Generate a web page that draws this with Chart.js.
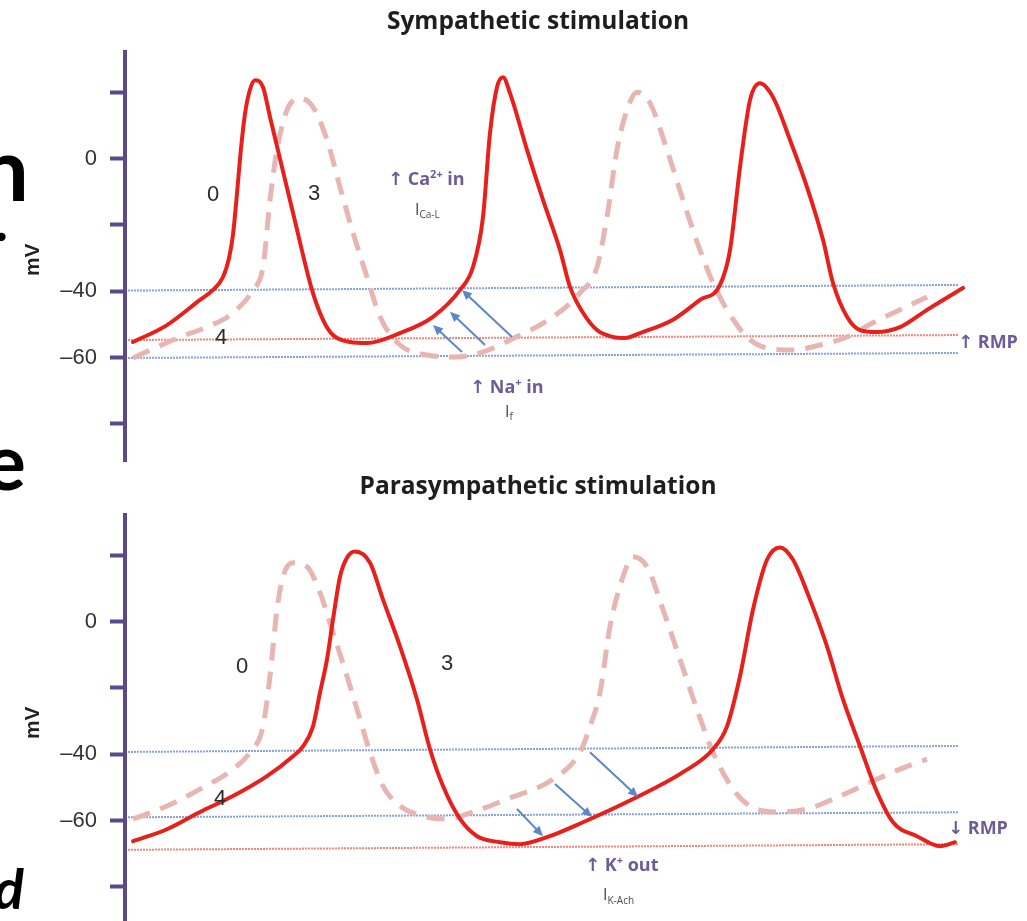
<!DOCTYPE html>
<html>
<head>
<meta charset="utf-8">
<title>Sympathetic vs parasympathetic stimulation</title>
<script src="https://cdn.jsdelivr.net/npm/chart.js@4.4.1/dist/chart.umd.min.js"></script>
<style>
  html, body { margin: 0; padding: 0; background: #fff; width: 1027px; height: 921px; overflow: hidden; }
  canvas { position: absolute; left: 0; }
  #edge { top: 0; }
  #symChart { top: 0; }
  #paraChart { top: 463px; }
</style>
</head>
<body>
<canvas id="edge" width="60" height="921"></canvas>
<canvas id="symChart" width="1027" height="488"></canvas>
<canvas id="paraChart" width="1027" height="488"></canvas>
<script>
// ---------------- data (time in ms from the axis, potential in mV) ----------------
const symTime = [8, 42, 75, 88, 98, 104, 108, 112, 116, 120, 125, 130, 138, 145, 157, 169, 187, 198, 208, 225, 242,
                 275, 308, 335, 348, 358, 365, 372, 378, 385, 402, 418, 435, 445, 458, 472, 488, 500, 515, 548, 575,
                 595, 605, 615, 625, 635, 648, 665, 682, 698, 708, 722, 735, 752, 775, 802, 838];
const symVm = [-55.3, -50.2, -42.6, -39.6, -35.7, -30.0, -23.0, -10.5, 3.0, 13.5, 20.8, 23.6, 21.5, 12.5, -2.6, -17.6, -39.6, -48.6, -53.2, -55.3, -55.6,
               -52.6, -47.7, -39.6, -32.7, -17.6, 7.7, 21.5, 24.5, 19.7, 2.6, -12.5, -27.6, -38.7, -46.5, -51.7, -53.8, -54.1, -52.6, -48.6, -42.6,
               -38.1, -27.6, -2.6, 17.6, 22.7, 18.5, 5.6, -8.6, -24.5, -37.5, -47.7, -51.7, -52.3, -50.8, -45.6, -39.0];

const symBaseTime = [8, 32, 55, 82, 108, 128, 138, 145, 152, 162, 175, 188, 202, 215, 228, 242, 255, 275, 302, 332,
                     358, 385, 428, 455, 472, 482, 492, 502, 512, 525, 542, 558, 575, 588, 602, 622, 642, 668, 695, 722,
                     748, 775, 802];
const symBaseVm = [-60.1, -56.8, -53.8, -50.8, -46.5, -39.6, -32.7, -12.5, 2.6, 14.6, 18.2, 15.5, 5.6, -8.6, -22.4, -35.7, -47.7, -56.2, -59.2, -59.8,
                   -58.3, -54.7, -47.7, -40.5, -32.7, -17.6, 2.6, 14.6, 20.0, 16.7, 2.6, -12.5, -27.6, -37.5, -45.6, -53.8, -57.1, -57.7, -56.2, -53.8,
                   -49.5, -45.6, -41.7];

const paraTime = [8, 42, 75, 108, 142, 168, 178, 188, 195, 202, 208, 215, 222, 230, 245, 258, 275, 292, 305, 318,
                  335, 352, 375, 395, 422, 458, 508, 558, 588, 602, 615, 628, 642, 655, 668, 685, 702, 718, 735, 752,
                  768, 792, 815, 830];
const paraVm = [-66.2, -62.6, -57.4, -52.6, -46.6, -40.6, -37.6, -31.6, -21.4, -11.4, 0.6, 13.5, 19.2, 21.1, 17.7, 6.6, -7.5, -23.5, -38.5, -49.6,
                -59.5, -64.7, -66.5, -67.1, -65.0, -60.5, -53.5, -45.4, -38.5, -31.6, -16.5, 3.6, 18.6, 22.3, 18.6, 6.6, -7.5, -23.5, -37.6, -51.4,
                -60.5, -64.7, -67.7, -66.5];

const paraBaseTime = [8, 42, 75, 108, 125, 138, 145, 152, 158, 168, 182, 195, 208, 222, 235, 245, 258, 275, 302, 322,
                      348, 382, 428, 455, 465, 475, 485, 498, 508, 522, 538, 555, 572, 588, 608, 625, 652, 682, 715, 752,
                      775, 802];
const paraBaseVm = [-59.5, -55.6, -50.5, -44.5, -39.4, -31.6, -16.5, 3.6, 13.5, 17.7, 16.5, 8.7, -3.3, -16.5, -29.5, -39.4, -49.6, -55.6, -58.9, -59.5,
                    -57.4, -53.5, -47.5, -39.4, -31.6, -21.4, -1.5, 13.5, 19.5, 16.5, 3.6, -11.4, -26.5, -39.4, -50.5, -55.6, -57.4, -56.5, -52.6, -47.5,
                    -44.5, -41.5];

// reference lines: value at the left end and at the right end
const lineSpan = [3, 833];
const symUpper = [-39.8, -38.1];
const symRmp = [-54.7, -53.2];
const symLower = [-60.1, -58.6];
const paraUpper = [-39.3, -37.5];
const paraLower = [-59.0, -57.5];
const paraRmp = [-68.8, -67.1];

// y axis ticks
const tickValues = [-80, -60, -40, -20, 0, 20];
const tickLabels = ['', '–60', '–40', '', '0', ''];

// current arrows [time, mV]
const symArrowTails = [[337, -58.3], [360, -56.2], [387, -53.8]];
const symArrowTips = [[308, -50.2], [325, -46.2], [337, -39.6]];
const paraArrowTails = [[392, -56.5], [430, -49.0], [465, -39.4]];
const paraArrowTips = [[418, -64.7], [467, -58.9], [513, -52.9]];

// ---------------- styles ----------------
const axisColor = '#5b4a8b';
const redColor = '#e8201c';
const pinkColor = '#e7b6b3';
const blueLine = '#8aa3d9';
const rmpColor = '#f1887b';
const arrowColor = '#5b86c8';
const ionColor = '#6b5d97';

const phaseStyle = { family: '"Liberation Sans", Arial, sans-serif', size: 22, weight: 'normal', color: '#2b2b2b', align: 'center' };
const ionStyle = { family: '"Open Sans", "DejaVu Sans", sans-serif', size: 18, weight: 'bold', color: ionColor, align: 'left' };
const currentStyle = { family: '"Open Sans", "DejaVu Sans", sans-serif', size: 16, weight: 'normal', color: '#4a4a4a', align: 'left' };

const symNotes = [
  { parts: [['0']], at: [88, -11.0], style: phaseStyle },
  { parts: [['3']], at: [189, -10.7], style: phaseStyle },
  { parts: [['4']], at: [96, -54.1], style: phaseStyle },
  { parts: [['↑ Ca'], ['2+', 'sup'], [' in']], at: [263, -6.5], style: ionStyle },
  { parts: [['I'], ['Ca-L', 'sub']], at: [290, -15.5], style: currentStyle },
  { parts: [['↑ Na'], ['+', 'sup'], [' in']], at: [345, -69.1], style: ionStyle },
  { parts: [['I'], ['f', 'sub']], at: [380, -76.4], style: currentStyle },
  { parts: [['↑ RMP']], at: [833, -55.6], style: ionStyle }
];
const paraNotes = [
  { parts: [['0']], at: [117, -13.8], style: phaseStyle },
  { parts: [['3']], at: [322, -12.9], style: phaseStyle },
  { parts: [['4']], at: [95, -53.5], style: phaseStyle },
  { parts: [['↓ RMP']], at: [823, -62.6], style: ionStyle },
  { parts: [['↑ K'], ['+', 'sup'], [' out']], at: [460, -73.7], style: ionStyle },
  { parts: [['I'], ['K-Ach', 'sub']], at: [478, -82.7], style: currentStyle }
];

// ---------------- helpers ----------------
function pts(xs, ys) {
  return xs.map((x, i) => ({ x: x, y: ys[i] }));
}

function refLine(ys, color) {
  return {
    data: pts(lineSpan, ys),
    borderColor: color,
    borderWidth: 2,
    borderDash: [2, 1],
    pointRadius: 0,
    tension: 0
  };
}

function drawRich(ctx, parts, px, py, st) {
  const main = st.weight + ' ' + st.size + 'px ' + st.family;
  const small = st.weight + ' ' + Math.round(st.size * 0.62) + 'px ' + st.family;
  let w = 0;
  parts.forEach(p => { ctx.font = p[1] ? small : main; w += ctx.measureText(p[0]).width; });
  let cx = st.align === 'center' ? px - w / 2 : px;
  ctx.fillStyle = st.color;
  ctx.textAlign = 'left';
  ctx.textBaseline = 'middle';
  parts.forEach(p => {
    ctx.font = p[1] ? small : main;
    let dy = 0;
    if (p[1] === 'sup') dy = -st.size * 0.3;
    if (p[1] === 'sub') dy = st.size * 0.32;
    ctx.fillText(p[0], cx, py + dy);
    cx += ctx.measureText(p[0]).width;
  });
}

function drawArrow(ctx, x1, y1, x2, y2) {
  const ang = Math.atan2(y2 - y1, x2 - x1);
  const head = 10, half = 4.5;
  ctx.strokeStyle = arrowColor;
  ctx.fillStyle = arrowColor;
  ctx.lineWidth = 2;
  ctx.beginPath();
  ctx.moveTo(x1, y1);
  ctx.lineTo(x2 - Math.cos(ang) * head * 0.8, y2 - Math.sin(ang) * head * 0.8);
  ctx.stroke();
  ctx.beginPath();
  ctx.moveTo(x2, y2);
  ctx.lineTo(x2 - Math.cos(ang) * head - Math.sin(ang) * half, y2 - Math.sin(ang) * head + Math.cos(ang) * half);
  ctx.lineTo(x2 - Math.cos(ang) * head + Math.sin(ang) * half, y2 - Math.sin(ang) * head - Math.cos(ang) * half);
  ctx.closePath();
  ctx.fill();
}

const notesPlugin = {
  id: 'panelNotes',
  afterDatasetsDraw(chart, args, opts) {
    const ctx = chart.ctx;
    const xs = chart.scales.x, ys = chart.scales.y;
    ctx.save();
    opts.tails.forEach((t, i) => {
      const tip = opts.tips[i];
      drawArrow(ctx, xs.getPixelForValue(t[0]), ys.getPixelForValue(t[1]),
                xs.getPixelForValue(tip[0]), ys.getPixelForValue(tip[1]));
    });
    opts.notes.forEach(n => {
      drawRich(ctx, n.parts, xs.getPixelForValue(n.at[0]), ys.getPixelForValue(n.at[1]), n.style);
    });
    // rotated unit label
    ctx.translate(chart.chartArea.left - 92, ys.getPixelForValue(-30.5));
    ctx.rotate(-Math.PI / 2);
    ctx.font = 'bold 21px "Liberation Sans", Arial, sans-serif';
    ctx.fillStyle = '#222';
    ctx.textAlign = 'center';
    ctx.textBaseline = 'middle';
    ctx.fillText('mV', 0, 0);
    ctx.restore();
  }
};

function makePanel(canvasId, cfg) {
  return new Chart(document.getElementById(canvasId), {
    type: 'line',
    data: {
      datasets: [
        { label: 'stimulated', data: pts(cfg.time, cfg.vm), borderColor: redColor, borderWidth: 4,
          cubicInterpolationMode: 'monotone', pointRadius: 0, borderJoinStyle: 'round', borderCapStyle: 'round' },
        { label: 'baseline', data: pts(cfg.baseTime, cfg.baseVm), borderColor: pinkColor, borderWidth: 5,
          borderDash: [18, 11], cubicInterpolationMode: 'monotone', pointRadius: 0 },
        refLine(cfg.upper, blueLine),
        refLine(cfg.rmp, rmpColor),
        refLine(cfg.lower, blueLine)
      ]
    },
    options: {
      responsive: false,
      animation: false,
      devicePixelRatio: 1,
      layout: { padding: { left: 49, right: 0, top: 0, bottom: 0 } },
      plugins: {
        legend: { display: false },
        tooltip: { enabled: false },
        title: {
          display: true,
          text: cfg.title,
          color: '#1e1e1e',
          font: { family: '"Open Sans", Lato, sans-serif', size: 24.5, weight: 'bold' },
          padding: { top: cfg.titleTop, bottom: 52 - 29.4 - cfg.titleTop }
        },
        panelNotes: { notes: cfg.notes, tails: cfg.tails, tips: cfg.tips }
      },
      scales: {
        x: { type: 'linear', min: 0, max: 902, display: false },
        y: {
          type: 'linear',
          min: -91.4,
          max: 32.1,
          afterBuildTicks: s => { s.ticks = tickValues.map(v => ({ value: v })); },
          afterFit: s => { s.width = 76; },
          border: { display: true, color: axisColor, width: 4 },
          grid: { drawOnChartArea: false, drawTicks: true, tickLength: 15, tickWidth: 4, tickColor: axisColor },
          ticks: {
            autoSkip: false,
            padding: 13,
            color: '#333',
            font: { family: '"Liberation Sans", Arial, sans-serif', size: 22 },
            callback: v => tickLabels[tickValues.indexOf(v)]
          }
        }
      }
    },
    plugins: [notesPlugin]
  });
}

function drawEdge() {
  // slide text cut off by the left edge of the picture
  const ctx = document.getElementById('edge').getContext('2d');
  ctx.fillStyle = '#000';
  ctx.textAlign = 'right';
  ctx.textBaseline = 'alphabetic';
  ctx.font = 'bold 88px Lato, "Open Sans", sans-serif';
  ctx.fillText('n', 29, 201);
  ctx.font = 'bold 56px Lato, "Open Sans", sans-serif';
  ctx.fillText('.', 8, 241);
  ctx.font = 'bold 78px Lato, "Open Sans", sans-serif';
  ctx.fillText('e', 26, 490);
  ctx.font = 'italic bold 56px Lato, "Open Sans", sans-serif';
  ctx.fillText('d', 24, 909);
}

function build() {
  drawEdge();
  makePanel('symChart', {
    title: 'Sympathetic stimulation', titleTop: 7,
    time: symTime, vm: symVm, baseTime: symBaseTime, baseVm: symBaseVm,
    upper: symUpper, rmp: symRmp, lower: symLower,
    notes: symNotes, tails: symArrowTails, tips: symArrowTips
  });
  makePanel('paraChart', {
    title: 'Parasympathetic stimulation', titleTop: 9,
    time: paraTime, vm: paraVm, baseTime: paraBaseTime, baseVm: paraBaseVm,
    upper: paraUpper, rmp: paraRmp, lower: paraLower,
    notes: paraNotes, tails: paraArrowTails, tips: paraArrowTips
  });
}

Promise.all([
  document.fonts.load('bold 24px "Open Sans"'),
  document.fonts.load('18px "Open Sans"'),
  document.fonts.load('bold 88px Lato'),
  document.fonts.load('italic bold 56px Lato'),
  document.fonts.load('22px "Liberation Sans"')
]).catch(() => {}).then(build);
</script>
</body>
</html>
